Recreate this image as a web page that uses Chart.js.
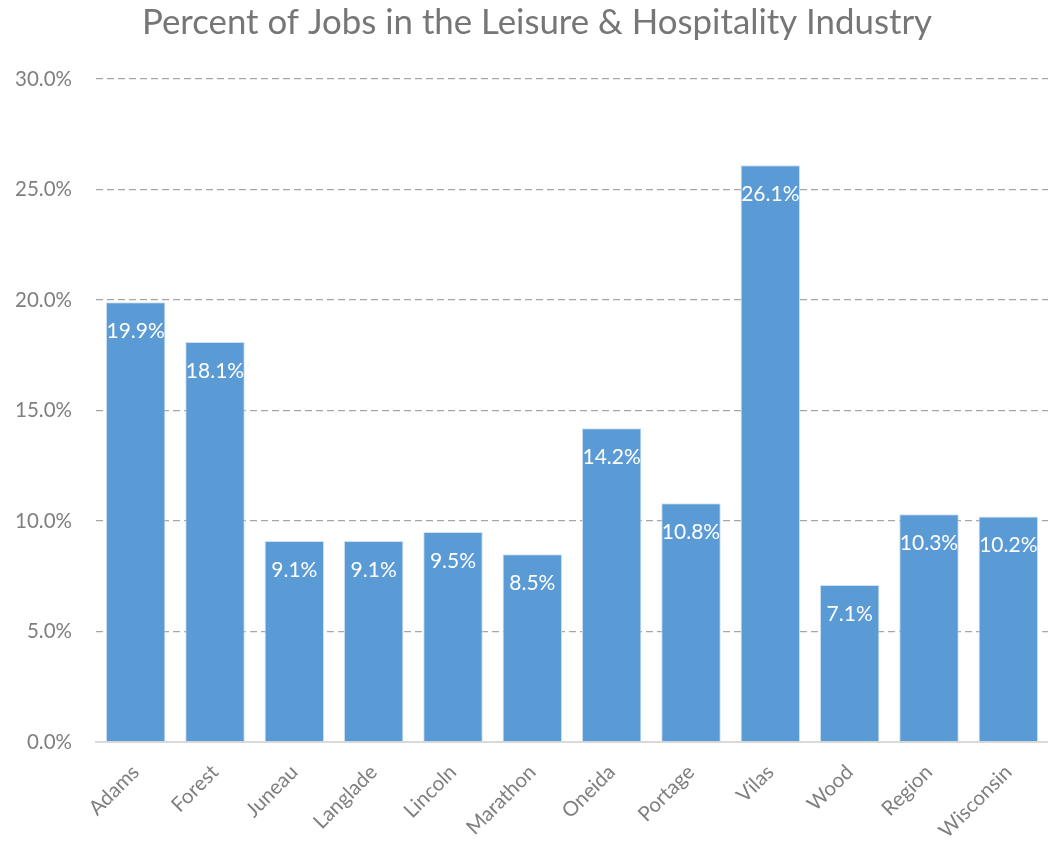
<!DOCTYPE html>
<html>
<head>
<meta charset="utf-8">
<script src="https://cdn.jsdelivr.net/npm/chart.js@4/dist/chart.umd.min.js"></script>
<style>
  html, body { margin: 0; padding: 0; background: #fff; }
  #wrap { width: 1048px; height: 845px; }
</style>
</head>
<body>
<div id="wrap"><canvas id="leisureChart"></canvas></div>
<script>
// Share of jobs in leisure & hospitality, by county
const areas = ["Adams", "Forest", "Juneau", "Langlade", "Lincoln", "Marathon",
  "Oneida", "Portage", "Vilas", "Wood", "Region", "Wisconsin"];
const jobShare = [19.9, 18.1, 9.1, 9.1, 9.5, 8.5, 14.2, 10.8, 26.1, 7.1, 10.3, 10.2];
const yTicks = [0, 5, 10, 15, 20, 25, 30];
const chartTitle = "Percent of Jobs in the Leisure & Hospitality Industry";

const FONT = "Lato, 'Noto Sans', sans-serif";

// title drawn a little right of the canvas centre
const titlePlugin = {
  id: "offsetTitle",
  afterDraw(chart) {
    const ctx = chart.ctx;
    ctx.save();
    ctx.fillStyle = "#767676";
    ctx.font = "34.8px " + FONT;
    ctx.textAlign = "center";
    ctx.textBaseline = "middle";
    ctx.fillText(chartTitle, chart.width / 2 + 13, 23);
    ctx.restore();
  },
};

// white value labels just inside the top of each bar
const barLabels = {
  id: "barLabels",
  afterDatasetsDraw(chart) {
    const ctx = chart.ctx;
    const meta = chart.getDatasetMeta(0);
    ctx.save();
    ctx.fillStyle = "#ffffff";
    ctx.font = "21px " + FONT;
    ctx.textAlign = "center";
    ctx.textBaseline = "middle";
    meta.data.forEach((bar, i) => {
      ctx.fillText(jobShare[i].toFixed(1) + "%", bar.x, bar.y + 29);
    });
    ctx.restore();
  },
};

const leisureCtx = document.getElementById("leisureChart").getContext("2d");
const leisureChart = new Chart(leisureCtx, {
  type: "bar",
  data: {
    labels: areas,
    datasets: [
      {
        label: "Percent of Jobs",
        data: jobShare,
        backgroundColor: "#5b9bd5",
        borderColor: "#cfe1f3",
        borderWidth: 1,
        barPercentage: 0.75,
        categoryPercentage: 1,
      },
    ],
  },
  options: {
    responsive: true,
    maintainAspectRatio: false,
    animation: false,
    layout: {
      padding: { left: 0, right: 0, top: 79, bottom: 0 },
    },
    plugins: {
      legend: { display: false },
      tooltip: { enabled: false },
      title: { display: false },
    },
    scales: {
      x: {
        grid: { display: false },
        border: { color: "#d9d9d9", width: 2 },
        ticks: {
          color: "#7f7f7f",
          font: { family: FONT, size: 20.5 },
          maxRotation: 45,
          minRotation: 45,
          padding: 10,
        },
        afterFit(scale) {
          scale.height = 103;
        },
      },
      y: {
        min: 0,
        max: 30,
        afterBuildTicks(scale) {
          scale.ticks = yTicks.map((v) => ({ value: v }));
        },
        grid: {
          drawTicks: false,
          color: (c) => (c.tick && c.tick.value === 0 ? "rgba(0,0,0,0)" : "#a6a6a6"),
          lineWidth: 1.3,
        },
        border: { display: false, dash: [7, 4] },
        ticks: {
          color: "#7f7f7f",
          font: { family: FONT, size: 20.5 },
          padding: 24,
          callback: (v) => v.toFixed(1) + "%",
        },
        afterFit(scale) {
          scale.width = 96;
        },
      },
    },
  },
  plugins: [barLabels, titlePlugin],
});
</script>
</body>
</html>
